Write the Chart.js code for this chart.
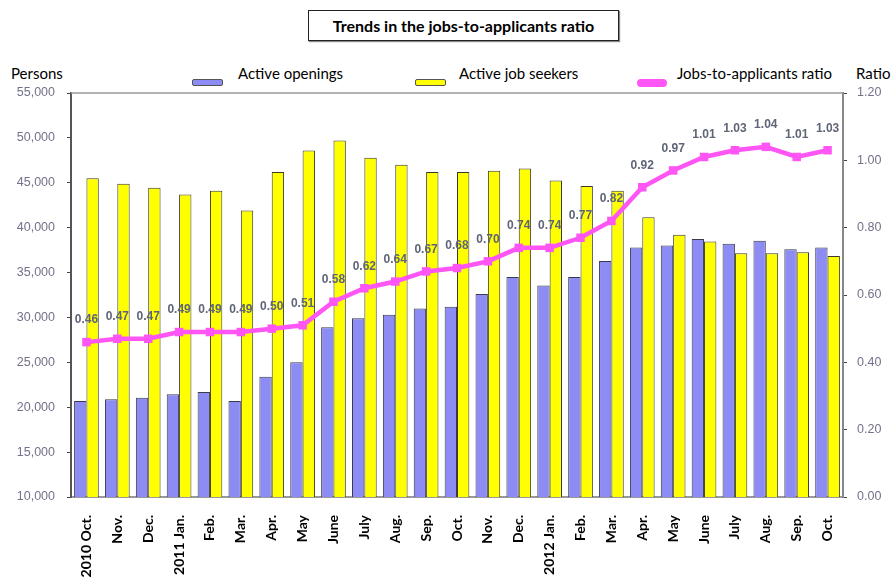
<!DOCTYPE html>
<html>
<head>
<meta charset="utf-8">
<title>Trends in the jobs-to-applicants ratio</title>
<script src="https://cdn.jsdelivr.net/npm/chart.js@4.4.0/dist/chart.umd.min.js"></script>
<style>
    html, body { margin: 0; padding: 0; background: #fff; }
    #wrap { position: relative; width: 894px; height: 580px; font-family: Lato, "Open Sans", sans-serif; }
    #chartTitle {
        position: absolute; left: 308px; top: 10px; width: 309px; height: 29px;
        border: 1px solid #222; box-shadow: 1px 1px 1px #888;
        font-weight: bold; font-size: 16px; line-height: 29px; text-align: center; color: #000;
    }
    .lbl { position: absolute; font-size: 15px; color: #000; top: 64px; }
    .sw { position: absolute; top: 79px; height: 5px; border: 1px solid #555; border-radius: 2px; }
    canvas { position: absolute; left: 0; top: 0; }
</style>
</head>
<body>
<div id="wrap">
    <div id="chartTitle">Trends in the jobs-to-applicants ratio</div>
    <div class="lbl" style="left:11px">Persons</div>
    <div class="lbl" style="left:856px">Ratio</div>
    <div class="sw" style="left:192px;width:29px;background:#8c8cf4"></div>
    <div class="lbl" style="left:238px">Active openings</div>
    <div class="sw" style="left:415px;width:29px;background:#ffff00"></div>
    <div class="lbl" style="left:459px">Active job seekers</div>
    <div class="sw" style="left:637px;width:30px;top:79px;height:8px;border:none;border-radius:4px;background:#ff55f5"></div>
    <div class="lbl" style="left:677px">Jobs-to-applicants ratio</div>
    <canvas id="trendChart" width="894" height="580"></canvas>
</div>
<script>
const months = [
    ['2010 Oct.'], ['Nov.'], ['Dec.'], ['2011 Jan.'], ['Feb.'], ['Mar.'], ['Apr.'], ['May'], ['June'],
    ['July'], ['Aug.'], ['Sep.'], ['Oct.'], ['Nov.'], ['Dec.'], ['2012 Jan.'], ['Feb.'], ['Mar.'],
    ['Apr.'], ['May'], ['June'], ['July'], ['Aug.'], ['Sep.'], ['Oct.']
];
const activeOpenings = [
    20700, 20900, 21050, 21450, 21700, 20700, 23400, 25000, 28900, 29900, 30300, 31000, 31200,
    32600, 34500, 33550, 34500, 36300, 37800, 38000, 38750, 38200, 38550, 37600, 37800
];
const activeSeekers = [
    45500, 44900, 44450, 43700, 44100, 41900, 46200, 48600, 49700, 47800, 47000, 46200, 46200,
    46350, 46600, 45250, 44650, 44100, 41150, 39200, 38450, 37150, 37150, 37250, 36850
];
const ratio = [
    0.46, 0.47, 0.47, 0.49, 0.49, 0.49, 0.50, 0.51, 0.58, 0.62, 0.64, 0.67, 0.68,
    0.70, 0.74, 0.74, 0.77, 0.82, 0.92, 0.97, 1.01, 1.03, 1.04, 1.01, 1.03
];
const personTicks = [10000, 15000, 20000, 25000, 30000, 35000, 40000, 45000, 50000, 55000];
const ratioTicks = [0, 0.2, 0.4, 0.6, 0.8, 1.0, 1.2];

// draws the ratio values above the pink markers
const ratioLabels = {
    id: 'ratioLabels',
    afterDatasetsDraw(chart) {
        const ctx = chart.ctx;
        const meta = chart.getDatasetMeta(0);
        ctx.save();
        ctx.font = 'bold 12px "Liberation Sans", Arial, sans-serif';
        ctx.fillStyle = '#5f6577';
        ctx.textAlign = 'center';
        ctx.textBaseline = 'middle';
        meta.data.forEach(function(pt, i) {
            ctx.fillText(ratio[i].toFixed(2), pt.x, pt.y - 22);
        });
        ctx.restore();
    }
};

const tickFont = { family: '"Liberation Sans", Arial, sans-serif', size: 12.5 };

new Chart(document.getElementById('trendChart'), {
    data: {
        labels: months,
        datasets: [{
            type: 'line',
            label: 'Jobs-to-applicants ratio',
            data: ratio,
            yAxisID: 'yRatio',
            borderColor: '#ff55f5',
            backgroundColor: '#ff55f5',
            borderWidth: 4.5,
            pointStyle: 'rect',
            pointRadius: 6,
            pointBorderWidth: 0,
            tension: 0,
            order: 0
        }, {
            type: 'bar',
            label: 'Active openings',
            data: activeOpenings,
            yAxisID: 'y',
            backgroundColor: '#8c8cf4',
            borderColor: '#3a3a4a',
            borderWidth: 1,
            categoryPercentage: 0.8,
            barPercentage: 1,
            order: 1
        }, {
            type: 'bar',
            label: 'Active job seekers',
            data: activeSeekers,
            yAxisID: 'y',
            backgroundColor: '#ffff00',
            borderColor: '#3a3a2a',
            borderWidth: 1,
            categoryPercentage: 0.8,
            barPercentage: 1,
            order: 1
        }]
    },
    options: {
        responsive: false,
        animation: false,
        layout: { padding: { top: 93, left: 0, right: 0, bottom: 0 } },
        plugins: {
            legend: { display: false },
            tooltip: { enabled: false }
        },
        scales: {
            x: {
                grid: { display: false },
                border: { color: '#999', width: 2 },
                ticks: {
                    minRotation: 90,
                    maxRotation: 90,
                    autoSkip: false,
                    padding: 10,
                    color: '#000',
                    font: { family: 'Lato, "Open Sans", sans-serif', size: 14, weight: 'bold' }
                },
                afterFit: function(scale) { scale.height = 83; }
            },
            y: {
                position: 'left',
                min: 10000,
                max: 55000,
                afterBuildTicks: function(scale) { scale.ticks = personTicks.map(v => ({ value: v })); },
                grid: { drawOnChartArea: false, tickLength: 4, color: '#444' },
                border: { color: '#555', width: 2 },
                ticks: {
                    padding: 12,
                    color: '#72728a',
                    font: tickFont,
                    callback: function(value) { return value.toLocaleString('en-US'); }
                },
                afterFit: function(scale) { scale.width = 71; }
            },
            yRatio: {
                position: 'right',
                min: 0,
                max: 1.2,
                afterBuildTicks: function(scale) { scale.ticks = ratioTicks.map(v => ({ value: v })); },
                grid: { drawOnChartArea: false, tickLength: 4, color: '#444' },
                border: { color: '#888', width: 2 },
                ticks: {
                    padding: 10,
                    color: '#72728a',
                    font: tickFont,
                    callback: function(value) { return value.toFixed(2); }
                },
                afterFit: function(scale) { scale.width = 51; }
            }
        }
    },
    plugins: [ratioLabels, {
        id: 'plotFrame',
        beforeDatasetsDraw(chart) {
            const a = chart.chartArea;
            const ctx = chart.ctx;
            ctx.save();
            ctx.strokeStyle = '#999';
            ctx.lineWidth = 1.5;
            ctx.beginPath();
            ctx.moveTo(a.left, a.top);
            ctx.lineTo(a.right, a.top);
            ctx.stroke();
            ctx.restore();
        }
    }]
});
</script>
</body>
</html>
